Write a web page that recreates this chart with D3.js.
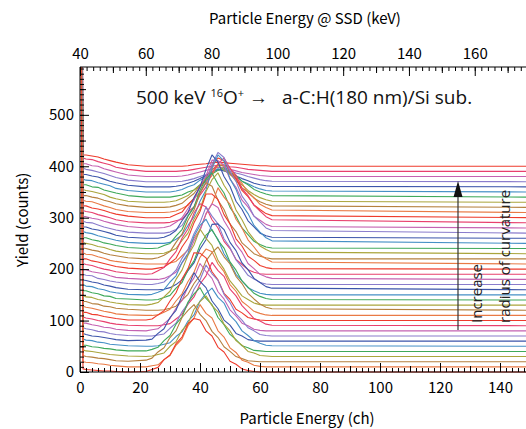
<!DOCTYPE html>
<html>
<head>
<meta charset="utf-8">
<script src="https://cdn.jsdelivr.net/npm/d3@7"></script>
<style>
  body { margin: 0; background: #fff; }
  svg { display: block; }
</style>
</head>
<body>
<svg id="chart"></svg>
<script>
const w = 526;
const h = 429;

const lowCh  = [1, 2, 4, 6, 8, 10, 12, 16];
const peakCh = [22, 24, 26, 28, 30, 32, 34, 36, 38, 40, 42, 44, 46, 48, 50, 52, 54, 56, 58, 60, 62, 64];
const lastCh = 150;

// vertical offset of each spectrum (counts), bottom to top
const offsets = [0, 10, 20, 30, 40, 50, 60, 70, 80, 90, 100, 110, 120, 130, 140, 150, 160, 170, 180, 190,
                 200, 210, 220, 230, 240, 250, 260, 270, 280, 290, 300, 310, 320, 330, 340, 350, 360, 370, 380, 390, 400];

// yield at ch 0 (goes off the top)
const spikeYield = [900, 1100, 950, 1200, 1000, 1300, 980, 1150, 1050, 1250, 990, 1180, 1020, 1300, 960, 1120, 1080, 1240, 1010, 1190,
                    1060, 1270, 970, 1130, 1040, 1210, 1000, 1160, 1090, 1280, 950, 1140, 1070, 1230, 1010, 1170, 1050, 1260, 990, 1200, 1100];

// low energy tail, counts at lowCh
const lowYield = [
  [6,5,4,3,2,2,1,0],
  [10,9,8,6,5,3,2,0],
  [12,10,9,7,6,4,2,1],
  [13,11,10,8,6,4,3,1],
  [12,12,9,8,6,5,3,1],
  [14,12,11,8,7,4,3,1],
  [15,13,10,9,7,5,3,1],
  [16,14,12,9,8,5,3,1],
  [15,15,12,10,7,6,3,1],
  [17,15,13,10,8,5,3,1],
  [16,16,12,11,8,6,4,1],
  [18,16,14,11,8,6,3,1],
  [17,17,13,12,8,7,4,2],
  [19,16,15,11,9,6,4,1],
  [18,18,14,12,8,7,3,2],
  [20,17,16,12,10,6,4,1],
  [19,18,15,13,9,7,4,1],
  [20,18,17,12,10,7,5,2],
  [19,19,15,13,11,7,4,2],
  [21,19,17,13,10,8,5,2],
  [20,20,16,14,11,8,5,2],
  [22,19,18,14,11,7,5,2],
  [21,20,17,15,11,8,6,2],
  [22,20,18,14,12,8,5,2],
  [21,21,17,15,11,9,6,2],
  [23,21,19,15,12,9,6,2],
  [22,22,18,16,13,10,6,2],
  [23,21,20,16,12,9,6,2],
  [22,22,19,17,13,10,7,3],
  [24,22,20,16,13,10,6,2],
  [23,23,19,17,14,10,7,3],
  [24,22,21,17,13,10,6,2],
  [23,23,20,18,14,11,7,3],
  [25,23,21,18,15,10,7,2],
  [24,24,20,19,14,11,8,3],
  [25,23,22,18,15,12,7,3],
  [24,24,21,19,15,11,8,3],
  [26,24,22,19,16,12,8,3],
  [25,25,21,20,15,12,9,3],
  [26,24,23,19,16,13,8,4],
  [22,22,20,18,14,11,8,3]
];

// peak region, counts at peakCh
const peakYield = [
  [1,5,9,24,33,55,68,94,104,101,80,70,48,39,21,15,6,3,1,0,0,0],
  [0,2,4,14,22,42,54,80,95,121,104,95,70,58,37,28,13,9,3,1,0,0],
  [3,7,19,27,47,60,86,100,111,92,80,59,47,29,20,10,6,2,1,0,0,0],
  [0,1,4,7,20,29,51,64,92,107,118,99,87,63,50,31,22,10,7,2,1,0],
  [1,4,8,21,31,53,67,96,112,124,103,91,66,52,33,23,11,7,2,1,0,0],
  [0,0,1,4,7,19,28,49,61,88,103,113,95,84,60,48,30,21,11,6,2,1],
  [2,4,15,24,46,60,88,105,133,116,104,78,63,41,31,15,10,3,1,0,0,0],
  [0,0,2,4,15,25,47,63,91,109,138,121,108,81,65,43,31,16,10,3,1,0],
  [0,2,4,14,24,44,59,86,103,131,115,102,76,62,41,29,15,10,3,1,0,0],
  [0,0,0,2,4,13,22,42,56,81,97,123,107,96,71,58,39,27,14,9,3,1],
  [1,3,11,19,38,54,81,101,132,131,122,95,79,53,41,22,15,6,3,1,0,0],
  [0,0,1,6,12,28,42,66,84,113,129,124,100,85,60,47,27,18,8,4,1,0],
  [0,0,0,1,4,8,20,31,52,68,96,112,123,104,90,66,52,33,22,12,6,3],
  [0,2,5,16,27,50,68,97,117,148,130,116,87,70,47,33,18,11,4,1,0,0],
  [0,0,1,5,9,23,34,59,76,107,126,137,116,101,74,58,37,25,13,7,3,1],
  [0,1,5,10,25,37,63,81,114,135,147,125,108,80,62,40,27,14,8,3,1,0],
  [0,0,0,1,4,10,19,37,52,79,97,127,128,117,92,76,52,39,22,14,6,3],
  [0,0,2,5,16,28,51,69,99,120,151,133,118,89,72,48,34,18,11,4,1,0],
  [0,0,0,2,7,14,32,48,75,95,128,147,140,114,95,68,53,31,21,10,5,2],
  [0,1,7,13,30,44,70,88,119,137,131,106,90,64,50,29,19,9,4,1,0,0],
  [0,0,2,4,12,21,43,60,90,112,146,146,135,106,88,59,45,25,17,7,3,1],
  [0,0,0,0,2,5,16,27,50,67,97,117,148,130,116,87,70,47,33,18,10,4],
  [0,0,2,7,14,32,48,75,95,128,148,141,114,96,68,53,31,21,10,5,2,0],
  [0,0,0,1,5,10,26,40,67,87,121,144,157,133,115,85,66,43,28,15,8,3],
  [0,0,1,6,10,24,37,63,81,114,135,147,125,108,80,63,40,27,14,8,3,1],
  [0,0,0,0,2,8,16,35,52,82,104,146,172,160,126,105,75,58,35,22,11,5],
  [0,0,0,2,7,15,34,50,79,100,134,162,148,120,101,72,56,34,22,10,5,2],
  [0,0,0,0,2,7,15,34,50,79,100,134,157,147,120,101,72,56,33,22,10,5],
  [0,0,0,1,4,11,20,38,54,81,101,132,131,122,95,79,54,41,23,15,7,3],
  [0,0,0,0,1,4,7,21,31,54,70,98,115,126,106,93,67,53,34,23,12,6],
  [0,0,0,0,1,6,11,26,37,60,74,101,116,111,89,76,53,41,25,16,8,4],
  [0,0,0,0,1,3,8,14,28,38,58,72,95,93,87,67,57,38,29,16,10,5],
  [0,0,0,0,1,4,8,18,27,43,53,73,83,80,64,55,38,30,18,11,6,3],
  [0,0,0,0,1,3,8,13,24,32,48,56,72,62,56,41,34,23,15,9,5,2],
  [0,0,0,0,0,2,4,10,14,24,31,45,52,57,48,42,31,24,15,10,6,3],
  [0,0,0,0,0,2,5,10,14,23,29,40,45,43,35,30,21,16,10,6,3,2],
  [0,0,0,0,0,1,3,7,11,16,22,28,34,31,27,21,16,12,7,4,2,1],
  [0,0,0,0,0,0,1,3,6,10,14,19,23,24,21,17,14,10,7,4,2,1],
  [0,0,0,0,0,0,1,3,6,9,12,15,18,17,14,11,8,6,4,2,1,0],
  [0,0,0,0,0,0,1,2,4,6,8,10,12,11,9,8,6,4,3,2,1,0],
  [0,0,0,0,0,0,0,1,3,4,5,7,8,7,6,5,4,3,2,1,1,0]
];

const palette = ["#ee3b2c", "#e97a45", "#b5803f", "#aaa53c", "#3fa95a", "#4690c6", "#3c55aa", "#8a7ccc", "#c462b2", "#e8406e"];

const chTicks   = [0, 20, 40, 60, 80, 100, 120, 140];
const keVTicks  = [40, 60, 80, 100, 120, 140, 160];
const yTicks    = [0, 100, 200, 300, 400, 500];

const svg = d3.select("#chart").attr("width", w).attr("height", h);

const x = d3.scaleLinear().domain([0, 150]).range([80, 530]);
const xKeV = d3.scaleLinear().domain([40, 176.8]).range([80, 530]);
const y = d3.scaleLinear().domain([0, 593]).range([372, 67]);

svg.append("clipPath").attr("id", "plotclip")
  .append("rect").attr("x", 80).attr("y", 67).attr("width", 460).attr("height", 306);

// build each spectrum from the arrays
const spectra = offsets.map((off, i) => {
  const pts = [[0, off + spikeYield[i]]];
  lowCh.forEach((c, k) => pts.push([c, off + lowYield[i][k]]));
  peakCh.forEach((c, k) => pts.push([c, off + peakYield[i][k]]));
  pts.push([lastCh, off]);
  return { i: i, pts: pts };
});

const line = d3.line().x(d => x(d[0])).y(d => y(d[1]));

svg.append("g").attr("clip-path", "url(#plotclip)")
  .selectAll("path")
  .data(spectra.slice().reverse())
  .enter()
  .append("path")
  .attr("d", d => line(d.pts))
  .attr("fill", "none")
  .attr("stroke", d => palette[d.i % palette.length])
  .attr("stroke-width", 1.1)
  .attr("stroke-linejoin", "round");

// axes: ticks point inward
const font = "'Noto Sans CJK JP', 'Noto Sans', sans-serif";

function styleAxis(g) {
  g.select(".domain").remove();
  g.selectAll("line").attr("stroke", "#000");
  g.selectAll("text").attr("font-size", 15).attr("font-family", font).attr("fill", "#000");
}

// bottom
svg.append("g").attr("transform", "translate(0,372)")
  .call(d3.axisBottom(x).tickValues(d3.range(0, 151, 2)).tickSizeInner(-4).tickSizeOuter(0).tickFormat(""))
  .call(styleAxis);
svg.append("g").attr("transform", "translate(0,372)")
  .call(d3.axisBottom(x).tickValues(d3.range(10, 151, 20)).tickSizeInner(-6).tickSizeOuter(0).tickFormat(""))
  .call(styleAxis);
svg.append("g").attr("transform", "translate(0,372)")
  .call(d3.axisBottom(x).tickValues(chTicks).tickSizeInner(-9).tickSizeOuter(0).tickPadding(10))
  .call(styleAxis);

// top
svg.append("g").attr("transform", "translate(0,67)")
  .call(d3.axisTop(xKeV).tickValues(d3.range(40, 177, 2)).tickSizeInner(-4).tickSizeOuter(0).tickFormat(""))
  .call(styleAxis);
svg.append("g").attr("transform", "translate(0,67)")
  .call(d3.axisTop(xKeV).tickValues(d3.range(50, 177, 20)).tickSizeInner(-6).tickSizeOuter(0).tickFormat(""))
  .call(styleAxis);
svg.append("g").attr("transform", "translate(0,67)")
  .call(d3.axisTop(xKeV).tickValues(keVTicks).tickSizeInner(-9).tickSizeOuter(0).tickPadding(8))
  .call(styleAxis);

// left
svg.append("g").attr("transform", "translate(80,0)")
  .call(d3.axisLeft(y).tickValues(d3.range(0, 591, 10)).tickSizeInner(-4).tickSizeOuter(0).tickFormat(""))
  .call(styleAxis);
svg.append("g").attr("transform", "translate(80,0)")
  .call(d3.axisLeft(y).tickValues(d3.range(50, 591, 100)).tickSizeInner(-6).tickSizeOuter(0).tickFormat(""))
  .call(styleAxis);
svg.append("g").attr("transform", "translate(80,0)")
  .call(d3.axisLeft(y).tickValues(yTicks).tickSizeInner(-9).tickSizeOuter(0).tickPadding(6))
  .call(styleAxis);

// frame lines
svg.append("line").attr("x1", 80).attr("x2", 80).attr("y1", 67).attr("y2", 372).attr("stroke", "#000");
svg.append("line").attr("x1", 80).attr("x2", 530).attr("y1", 67).attr("y2", 67).attr("stroke", "#000");
svg.append("line").attr("x1", 80).attr("x2", 530).attr("y1", 372).attr("y2", 372).attr("stroke", "#000");

// axis titles
svg.append("text").attr("x", 305).attr("y", 24).attr("text-anchor", "middle")
  .attr("font-size", 15).attr("font-family", font).text("Particle Energy @ SSD (keV)");
svg.append("text").attr("x", 307).attr("y", 424).attr("text-anchor", "middle")
  .attr("font-size", 15).attr("font-family", font).text("Particle Energy (ch)");
svg.append("text").attr("transform", "translate(28,220) rotate(-90)").attr("text-anchor", "middle")
  .attr("font-size", 15).attr("font-family", font).text("Yield (counts)");

// annotation
const sans = "'Open Sans', 'Noto Sans', sans-serif";
const ann = svg.append("text").attr("x", 136).attr("y", 104)
  .attr("font-size", 19).attr("font-family", sans).attr("fill", "#111");
ann.append("tspan").text("500 keV ");
ann.append("tspan").attr("font-size", 11).attr("dy", -7).text("16");
ann.append("tspan").attr("dy", 7).text("O");
ann.append("tspan").attr("font-size", 11).attr("dy", -7).text("+");
ann.append("tspan").attr("dy", 7).text(" \u2192");
ann.append("tspan").attr("dx", 14).text("a-C:H(180 nm)/Si sub.");

// arrow
svg.append("line").attr("x1", 458).attr("x2", 458).attr("y1", 330).attr("y2", 192)
  .attr("stroke", "#333").attr("stroke-width", 1.2);
svg.append("path").attr("d", "M458,181 L453.5,197 L462.5,197 Z").attr("fill", "#111");

svg.append("text").attr("transform", "translate(482,323) rotate(-90)")
  .attr("font-size", 15).attr("font-family", sans).attr("fill", "#222").text("Increase");
svg.append("text").attr("transform", "translate(510,323) rotate(-90)")
  .attr("font-size", 15).attr("font-family", sans).attr("fill", "#222").text("radius of curvature");
</script>
</body>
</html>
